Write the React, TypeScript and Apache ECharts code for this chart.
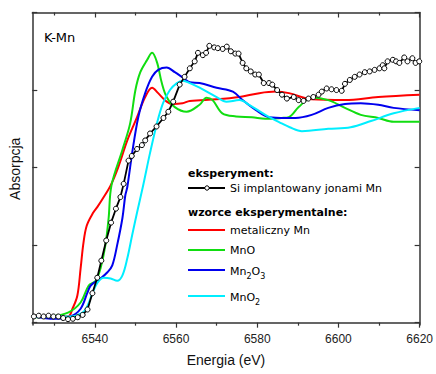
import React, { useEffect, useRef } from "react";
import * as echarts from "echarts";

// Energy axis ticks
const majorTicks = [6540, 6560, 6580, 6600, 6620];
const minorTicks = [6530, 6550, 6570, 6590, 6610];
const yTicks = [0, 1, 2, 3, 4];

// Experiment: Si implanted with Mn ions
const expE = [6525, 6526.2, 6527.4, 6528.6, 6529.8, 6531, 6532.2, 6533.4, 6534.6, 6535.8, 6537, 6538.2, 6539.4, 6540.6, 6541.6, 6542.8, 6544, 6545.2, 6546.3, 6547.1, 6548.3, 6549.1, 6550.4, 6551.6, 6552.4, 6553.6, 6555.2, 6556.9, 6558.1, 6559.3, 6560.9, 6562.1, 6563.4, 6564.6, 6565.4, 6566.6, 6567.4, 6568.2, 6569.4, 6570.3, 6571.5, 6572.5, 6573.5, 6574.6, 6575.4, 6576.4, 6577.3, 6578.4, 6579.5, 6580.4, 6581.6, 6582.9, 6583.7, 6584.9, 6586.1, 6587.3, 6589, 6590.2, 6591.4, 6592.6, 6593.8, 6595.1, 6595.9, 6597.1, 6598.3, 6599.5, 6600.8, 6601.6, 6602.8, 6604, 6605.2, 6606.5, 6607.7, 6608.9, 6610.1, 6610.9, 6611.3, 6612.1, 6613.4, 6614.2, 6615, 6616.2, 6617, 6618.2, 6619, 6619.9];
const expA = [0.08, 0.09, 0.08, 0.09, 0.08, 0.08, 0.06, 0.045, 0.05, 0.07, 0.1, 0.17, 0.38, 0.58, 0.8, 1.06, 1.29, 1.47, 1.62, 1.79, 2.09, 2.15, 2.24, 2.29, 2.35, 2.44, 2.53, 2.64, 2.72, 2.85, 3.07, 3.17, 3.28, 3.37, 3.48, 3.45, 3.48, 3.57, 3.55, 3.54, 3.53, 3.56, 3.5, 3.47, 3.47, 3.35, 3.28, 3.24, 3.2, 3.2, 3.09, 3.09, 3.07, 3.0, 2.94, 2.89, 2.91, 2.87, 2.86, 2.89, 2.91, 2.94, 2.98, 3.02, 3.01, 3.0, 2.99, 3.08, 3.13, 3.17, 3.2, 3.23, 3.24, 3.26, 3.28, 3.32, 3.28, 3.37, 3.39, 3.37, 3.35, 3.42, 3.37, 3.41, 3.35, 3.37];

// Reference: metallic Mn
const mnE = [6525, 6530, 6533.4, 6534.5, 6535.7, 6536.5, 6537.2, 6538, 6539.5, 6540.6, 6542.2, 6543.9, 6545.8, 6548, 6550.4, 6552.4, 6554.1, 6555.6, 6557.7, 6559.2, 6561.6, 6563.4, 6570, 6575.6, 6580.5, 6584.6, 6587.8, 6593.4, 6601.6, 6609.8, 6620];
const mnA = [0.08, 0.08, 0.08, 0.18, 0.35, 0.7, 1.03, 1.25, 1.41, 1.49, 1.62, 1.77, 2.01, 2.35, 2.65, 2.91, 3.03, 2.96, 2.85, 2.82, 2.83, 2.86, 2.88, 2.91, 2.96, 2.98, 2.96, 2.88, 2.87, 2.91, 2.94];

// Reference: MnO
const mnoE = [6525, 6529, 6533.4, 6536.5, 6538.5, 6540.2, 6541.4, 6542.6, 6543.4, 6544.1, 6546.8, 6548.7, 6550, 6551.2, 6552.9, 6554.1, 6555.3, 6556.5, 6557.7, 6559.7, 6562.6, 6565.8, 6567.5, 6569, 6571.4, 6574.8, 6578.7, 6582, 6586, 6587.8, 6590.2, 6593.4, 6597.5, 6601.6, 6605.5, 6609.8, 6613.6, 6620];
const mnoA = [0.07, 0.08, 0.13, 0.26, 0.48, 0.54, 0.7, 1.0, 1.35, 1.77, 2.23, 2.57, 3.0, 3.23, 3.39, 3.48, 3.36, 3.09, 2.91, 2.78, 2.72, 2.81, 2.9, 2.87, 2.7, 2.66, 2.65, 2.63, 2.64, 2.65, 2.78, 2.9, 2.87, 2.77, 2.68, 2.64, 2.59, 2.59];

// Reference: Mn2O3
const mn2o3E = [6525, 6530, 6534, 6536.5, 6538.2, 6539, 6541.4, 6543.1, 6544.3, 6545.5, 6546.8, 6547.5, 6548, 6549.2, 6550.7, 6552.4, 6554.1, 6555.6, 6557.7, 6559.7, 6561.7, 6563.4, 6565.8, 6570, 6574, 6576.4, 6579.7, 6582.9, 6587, 6589.4, 6593.4, 6597.5, 6601.6, 6605.5, 6609.8, 6613.6, 6620];
const mn2o3A = [0.08, 0.05, 0.08, 0.18, 0.39, 0.48, 0.57, 0.65, 0.74, 1.0, 1.35, 1.64, 1.75, 2.19, 2.65, 2.96, 3.17, 3.26, 3.29, 3.23, 3.16, 3.1, 3.09, 3.03, 2.98, 2.87, 2.74, 2.65, 2.64, 2.64, 2.68, 2.77, 2.82, 2.83, 2.81, 2.77, 2.74];

// Reference: MnO2
const mno2E = [6525, 6534, 6537, 6538.2, 6539.5, 6540.7, 6542.2, 6543.9, 6545.5, 6546.8, 6548, 6549.2, 6550.4, 6551.9, 6553.6, 6555.3, 6556.8, 6558.5, 6560.2, 6561.7, 6563.4, 6565.8, 6570, 6572.4, 6575.6, 6578, 6582, 6586, 6588, 6591, 6597.5, 6603, 6608, 6613.6, 6620];
const mno2A = [0.08, 0.08, 0.13, 0.22, 0.39, 0.52, 0.58, 0.57, 0.54, 0.61, 0.83, 1.13, 1.42, 1.77, 2.19, 2.57, 2.83, 3.0, 3.09, 3.12, 3.09, 3.03, 2.91, 2.85, 2.87, 2.81, 2.68, 2.57, 2.52, 2.47, 2.5, 2.52, 2.6, 2.7, 2.77];

const pairs = (xs: number[], ys: number[]) => xs.map((x, i) => [x, ys[i]]);

const COL = { mn: "#ff0000", mno: "#11dd11", mn2o3: "#0000ee", mno2: "#00eeff", exp: "#000000" };
const AXIS = "#333333";
const LEG_FONT = "DejaVu Sans";

export default function App() {
  const ref = useRef<HTMLDivElement>(null);
  useEffect(() => {
    if (!ref.current) return;
    const chart = echarts.init(ref.current, null, { renderer: "svg" });
    const xBase = { type: "value", min: 6524.6, max: 6620, splitLine: { show: false } };
    const lineSeries = (name: string, color: string, data: number[][]) => ({
      name,
      type: "line",
      data,
      smooth: 0.35,
      showSymbol: false,
      symbol: "none",
      lineStyle: { color, width: 2 },
      z: 2,
    });
    const legX = 188;
    const legX2 = 225;
    const legLine = (y: number, color: string) => ({
      type: "line",
      shape: { x1: legX, y1: y, x2: legX2, y2: y },
      style: { stroke: color, lineWidth: 2 },
    });
    const legText = (y: number, text: string, bold = false, x = 230, rich?: any) => ({
      type: "text",
      x,
      y,
      style: {
        text,
        fontFamily: LEG_FONT,
        fontSize: 11,
        fontWeight: bold ? "bold" : "normal",
        fill: "#000",
        verticalAlign: "middle",
        rich,
      },
    });
    const subRich = {
      s: { fontFamily: LEG_FONT, fontSize: 8, fill: "#000", padding: [10, 0, 0, 0] },
      n: { fontFamily: LEG_FONT, fontSize: 11, fill: "#000" },
    };
    chart.setOption({
      animation: false,
      grid: { left: 32.3, right: 14.3, top: 12.5, bottom: 49 },
      xAxis: [
        {
          ...xBase,
          position: "bottom",
          name: "Energia (eV)",
          nameLocation: "middle",
          nameGap: 28,
          nameTextStyle: { fontFamily: "Liberation Sans", fontSize: 14, color: "#111" },
          axisLine: { show: true, lineStyle: { color: AXIS, width: 1.5 } },
          axisTick: { show: true, inside: false, length: 5, customValues: majorTicks, lineStyle: { color: AXIS, width: 1.2 } },
          axisLabel: {
            show: true,
            customValues: majorTicks,
            formatter: (v: number) => String(v),
            fontFamily: "Liberation Sans",
            fontSize: 12,
            color: "#222",
            margin: 8,
            hideOverlap: false,
          },
        },
        {
          ...xBase,
          position: "bottom",
          axisLine: { show: false },
          axisTick: { show: true, inside: false, length: 3, customValues: minorTicks, lineStyle: { color: AXIS, width: 1.2 } },
          axisLabel: { show: false },
        },
        {
          ...xBase,
          position: "top",
          axisLine: { show: true, lineStyle: { color: AXIS, width: 1.5 } },
          axisTick: { show: true, inside: true, length: 5, customValues: majorTicks, lineStyle: { color: AXIS, width: 1.2 } },
          axisLabel: { show: false },
        },
        {
          ...xBase,
          position: "top",
          axisLine: { show: false },
          axisTick: { show: true, inside: true, length: 3, customValues: minorTicks, lineStyle: { color: AXIS, width: 1.2 } },
          axisLabel: { show: false },
        },
      ],
      yAxis: [
        {
          type: "value",
          min: -0.03,
          max: 4,
          position: "left",
          name: "Absorpcja",
          nameLocation: "middle",
          nameGap: 10,
          nameRotate: 90,
          nameTextStyle: { fontFamily: "Liberation Sans", fontSize: 14, color: "#111" },
          splitLine: { show: false },
          axisLine: { show: true, lineStyle: { color: AXIS, width: 1.5 } },
          axisTick: { show: true, inside: true, length: 5, customValues: yTicks, lineStyle: { color: AXIS, width: 1.2 } },
          axisLabel: { show: false },
        },
        {
          type: "value",
          min: -0.03,
          max: 4,
          position: "right",
          splitLine: { show: false },
          axisLine: { show: true, lineStyle: { color: AXIS, width: 1.5 } },
          axisTick: { show: true, inside: true, length: 5, customValues: yTicks, lineStyle: { color: AXIS, width: 1.2 } },
          axisLabel: { show: false },
        },
      ],
      series: [
        lineSeries("metaliczny Mn", COL.mn, pairs(mnE, mnA)),
        lineSeries("MnO", COL.mno, pairs(mnoE, mnoA)),
        lineSeries("Mn2O3", COL.mn2o3, pairs(mn2o3E, mn2o3A)),
        lineSeries("MnO2", COL.mno2, pairs(mno2E, mno2A)),
        {
          name: "Si implantowany jonami Mn",
          type: "line",
          data: pairs(expE, expA),
          symbol: "circle",
          symbolSize: 5,
          showSymbol: true,
          itemStyle: { color: "#fff", borderColor: "#000", borderWidth: 1 },
          lineStyle: { color: COL.exp, width: 1.8 },
          z: 3,
        },
      ],
      graphic: [
        {
          type: "text",
          x: 44,
          y: 37,
          style: { text: "K-Mn", fontFamily: LEG_FONT, fontSize: 13, fill: "#000", verticalAlign: "middle" },
        },
        legText(173, "eksperyment:", true, 188),
        legLine(188, "#000"),
        {
          type: "circle",
          shape: { cx: 207, cy: 188, r: 2.2 },
          style: { fill: "#fff", stroke: "#000", lineWidth: 1 },
        },
        legText(188, "Si implantowany jonami Mn"),
        legText(212, "wzorce eksperymentalne:", true, 188),
        legLine(230, COL.mn),
        legText(230, "metaliczny Mn"),
        legLine(250, COL.mno),
        legText(250, "MnO"),
        legLine(270, COL.mn2o3),
        legText(271, "{n|Mn}{s|2}{n|O}{s|3}", false, 230, subRich),
        legLine(296, COL.mno2),
        legText(297, "{n|MnO}{s|2}", false, 230, subRich),
      ],
    });
    return () => chart.dispose();
  }, []);
  return <div ref={ref} style={{ position: "absolute", left: 0, top: 0, width: 436, height: 374 }} />;
}
